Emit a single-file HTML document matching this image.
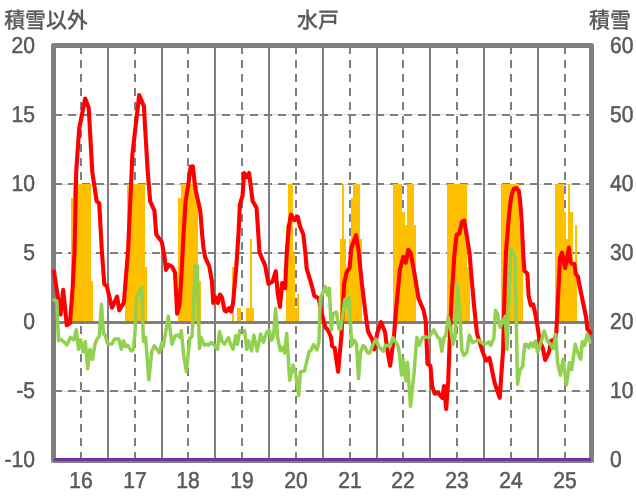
<!DOCTYPE html>
<html lang="ja">
<head>
<meta charset="utf-8">
<title>水戸</title>
<style>
html,body{margin:0;padding:0;background:#fff;}
body{width:636px;height:501px;overflow:hidden;}
svg{display:block;}
</style>
</head>
<body>
<svg width="636" height="501" viewBox="0 0 636 501">
<rect width="636" height="501" fill="#fff"/>
<g stroke="#7f7f7f" fill="none" stroke-width="2">
<line x1="54" x2="592" y1="114.5" y2="114.5" stroke="#dcdcdc" stroke-width="1"/>
<line x1="54" x2="592" y1="184.5" y2="184.5" stroke="#dcdcdc" stroke-width="1"/>
<line x1="54" x2="592" y1="253.5" y2="253.5" stroke="#dcdcdc" stroke-width="1"/>
<line x1="54" x2="592" y1="391.5" y2="391.5" stroke="#dcdcdc" stroke-width="1"/>
<line x1="81" x2="81" y1="46" y2="460" stroke-dasharray="8 6"/>
<line x1="108" x2="108" y1="46" y2="460"/>
<line x1="135" x2="135" y1="46" y2="460" stroke-dasharray="8 6"/>
<line x1="162" x2="162" y1="46" y2="460"/>
<line x1="188" x2="188" y1="46" y2="460" stroke-dasharray="8 6"/>
<line x1="215" x2="215" y1="46" y2="460"/>
<line x1="242" x2="242" y1="46" y2="460" stroke-dasharray="8 6"/>
<line x1="269" x2="269" y1="46" y2="460"/>
<line x1="296" x2="296" y1="46" y2="460" stroke-dasharray="8 6"/>
<line x1="323" x2="323" y1="46" y2="460"/>
<line x1="350" x2="350" y1="46" y2="460" stroke-dasharray="8 6"/>
<line x1="377" x2="377" y1="46" y2="460"/>
<line x1="403" x2="403" y1="46" y2="460" stroke-dasharray="8 6"/>
<line x1="430" x2="430" y1="46" y2="460"/>
<line x1="457" x2="457" y1="46" y2="460" stroke-dasharray="8 6"/>
<line x1="484" x2="484" y1="46" y2="460"/>
<line x1="511" x2="511" y1="46" y2="460" stroke-dasharray="8 6"/>
<line x1="538" x2="538" y1="46" y2="460"/>
<line x1="565" x2="565" y1="46" y2="460" stroke-dasharray="8 6"/>
<line x1="54" x2="592" y1="115" y2="115" stroke-dasharray="8 6"/>
<line x1="54" x2="592" y1="184" y2="184" stroke-dasharray="8 6"/>
<line x1="54" x2="592" y1="253" y2="253" stroke-dasharray="8 6"/>
<line x1="54" x2="592" y1="391" y2="391" stroke-dasharray="8 6"/>
</g>
<path fill="#ffc000" shape-rendering="crispEdges" d="M70.80 321V197.8H73.04V184.0H75.28V184.0H77.52V184.0H79.76V184.0H82.00V184.0H84.24V184.0H86.48V184.0H88.72V184.0H90.96V280.6H93.20V321ZM124.56 321V294.4H126.80V184.0H129.04V184.0H131.28V184.0H133.52V184.0H135.76V184.0H138.00V184.0H140.24V184.0H142.48V184.0H144.72V266.8H146.96V321ZM178.32 321V197.8H180.56V184.0H182.80V184.0H185.04V184.0H187.28V184.0H189.52V184.0H191.76V184.0H194.00V184.0H196.24V184.0H198.48V280.6H200.72V321ZM232.08 321V266.8H234.32V321ZM236.56 321V308.2H238.80V308.2H241.04V321ZM245.52 321V308.2H247.76V308.2H250.00V239.2H252.24V308.2H254.48V321ZM285.84 321V225.4H288.08V184.0H290.32V184.0H292.56V253.0H294.80V308.2H297.04V294.4H299.28V321ZM339.60 321V239.2H341.84V184.0H344.08V239.2H346.32V266.8H348.56V239.2H350.80V197.8H353.04V184.0H355.28V184.0H357.52V184.0H359.76V239.2H362.00V321ZM393.36 321V184.0H395.60V184.0H397.84V184.0H400.08V184.0H402.32V211.6H404.56V225.4H406.80V184.0H409.04V184.0H411.28V184.0H413.52V225.4H415.76V321ZM447.12 321V184.0H449.36V184.0H451.60V184.0H453.84V184.0H456.08V184.0H458.32V184.0H460.56V184.0H462.80V184.0H465.04V184.0H467.28V266.8H469.52V321ZM500.88 321V184.0H503.12V184.0H505.36V184.0H507.60V184.0H509.84V184.0H512.08V184.0H514.32V184.0H516.56V184.0H518.80V225.4H521.04V253.0H523.28V321ZM554.64 321V184.0H556.88V184.0H559.12V184.0H561.36V184.0H563.60V211.6H565.84V239.2H568.08V184.0H570.32V211.6H572.56V266.8H574.80V225.4H577.04V321Z"/>
<rect x="54" y="321" width="538" height="3" fill="#7f7f7f"/>
<rect x="53.5" y="45.5" width="538" height="415" fill="none" stroke="#7f7f7f" stroke-width="5" stroke-linejoin="round"/>
<g fill="none" stroke-linejoin="round" stroke-linecap="round">
<path d="M53.9 271.2L60.6 314.5L63.2 289.9L66.8 325.3L70.0 323.0L72.5 290.0L74.5 252.0L76.2 172.0L79.2 128.5L85.2 98.5L88.7 108.0L92.3 172.0L96.7 201.4L99.2 203.1L101.8 250.0L104.3 284.0L106.9 286.5L112.0 307.7L117.1 296.7L119.3 310.3L123.9 302.6L128.1 250.0L131.5 175.0L132.4 154.5L139.2 95.0L143.9 106.1L147.6 170.0L150.2 201.4L154.4 210.7L156.3 234.5L161.8 241.9L164.3 255.5L166.0 269.9L168.6 264.8L172.0 266.5L175.0 272.5L176.2 294.5L177.1 313.7L179.5 305.0L181.5 275.0L183.2 240.0L185.6 201.0L188.5 183.5L190.6 166.8L192.8 166.3L195.4 189.0L200.3 211.0L202.2 235.0L203.4 247.0L205.1 257.2L209.3 266.5L211.9 281.0L213.2 303.0L215.3 297.0L217.8 303.0L220.0 294.5L222.1 297.9L224.6 310.7L226.3 311.5L228.9 308.1L231.1 311.5L233.1 303.0L236.5 264.0L238.6 232.0L239.9 204.3L242.5 195.8L244.1 173.0L246.8 177.2L249.1 173.0L252.6 200.9L256.5 207.7L258.2 232.0L259.4 252.1L263.0 260.6L265.1 265.3L268.5 284.0L272.7 281.4L275.8 271.2L277.8 294.1L280.0 306.9L282.1 283.1L285.1 288.2L286.8 252.0L288.9 226.0L291.1 214.5L294.5 220.1L297.7 216.7L299.9 226.0L303.3 234.5L305.3 252.0L306.7 268.7L311.8 285.7L314.3 295.8L318.6 298.4L322.0 314.5L325.4 327.3L327.9 330.0L331.0 337.0L332.2 346.3L334.7 348.0L338.1 371.8L341.5 335.0L344.1 284.0L346.6 272.1L349.6 268.0L351.3 248.0L356.0 235.2L358.5 250.0L361.9 284.0L366.1 317.9L368.0 331.5L372.6 340.2L374.3 349.5L377.5 332.0L381.1 322.2L385.0 332.0L387.1 348.7L390.1 365.7L393.9 337.0L396.4 306.0L399.8 270.4L403.2 256.8L405.8 262.7L408.2 249.8L410.8 253.5L414.2 272.1L418.5 298.4L423.6 310.3L425.8 321.3L427.5 364.0L430.4 365.7L432.1 386.0L434.6 393.7L438.0 392.8L442.3 397.9L444.0 386.0L446.2 409.0L448.2 380.9L449.9 335.0L451.6 297.5L454.5 253.0L456.7 234.5L459.2 233.7L462.0 221.8L464.3 220.6L467.1 237.9L469.5 253.0L471.7 279.3L474.1 306.0L476.9 333.0L478.5 338.5L482.7 352.1L486.1 360.6L489.5 358.0L494.6 382.6L499.7 397.9L503.1 350.0L504.8 284.0L506.0 252.0L508.6 220.0L510.2 204.0L511.8 194.4L513.8 188.8L516.4 188.0L518.8 190.8L520.0 200.0L521.0 212.0L521.9 225.0L523.1 252.0L524.3 270.4L527.4 273.8L528.6 295.8L530.8 305.2L533.2 304.3L535.4 314.5L537.4 326.0L539.6 340.2L543.0 348.7L545.1 360.0L549.0 352.1L551.2 341.0L554.9 338.5L556.3 333.0L557.6 307.0L560.0 258.0L562.0 252.6L565.1 268.0L568.9 247.6L570.3 261.9L571.9 263.6L574.4 264.1L575.8 274.0L578.0 276.8L579.4 285.0L584.0 307.0L586.2 318.0L587.3 329.0L590.5 333.0" stroke="#ff0000" stroke-width="4.1"/>
<path d="M53.9 300.0L56.8 301.0L58.5 340.8L60.2 339.0L62.7 340.8L67.0 345.0L70.4 337.4L73.8 339.9L76.3 329.7L78.5 349.2L80.6 339.9L83.1 351.8L85.3 341.6L87.7 368.8L89.9 349.2L92.5 359.4L95.0 344.1L97.5 338.2L99.2 336.5L101.5 304.2L103.5 334.0L105.2 334.8L107.7 344.1L112.0 344.1L114.5 339.0L118.8 339.0L121.3 349.2L123.5 340.8L125.6 346.7L127.3 345.0L131.2 350.9L133.2 350.0L134.9 334.0L136.6 297.5L141.7 287.4L143.2 334.0L143.6 341.6L145.6 337.4L148.8 379.8L151.9 351.0L154.4 345.8L159.2 352.7L161.7 343.2L163.2 346.8L168.4 316.2L172.0 344.2L175.0 335.8L177.9 334.9L180.1 337.5L181.3 330.7L183.9 357.0L186.4 371.4L189.8 338.3L192.0 336.6L193.5 310.0L195.1 265.5L197.3 266.0L198.3 310.0L199.5 348.5L201.2 337.5L204.2 345.1L206.8 344.2L208.5 345.1L211.0 342.5L214.4 345.1L217.5 349.3L219.5 331.5L222.1 341.7L224.6 344.2L228.4 337.5L230.6 344.2L233.1 349.3L235.7 335.8L237.4 344.2L239.8 330.5M244.6 330.5L246.7 349.3L248.4 340.8L251.5 351.0L253.8 334.9L257.2 351.0L260.6 334.1L263.4 342.1L266.8 331.9L269.3 330.2L271.5 340.4L273.6 335.3L275.6 308.6L277.8 338.7L280.4 350.6L282.9 347.2L284.6 353.1L286.7 333.6L289.7 380.3L293.1 365.0L295.7 374.3L298.7 395.6L300.4 371.8L304.5 371.0L309.2 351.4L310.9 350.6L313.5 344.6L316.9 349.7L318.9 342.1L320.3 298.4L325.4 286.5L327.4 295.0L329.3 288.2L331.3 329.8L333.0 313.7L336.4 312.0L339.0 329.0L340.7 329.0L344.9 299.2L346.9 306.9L349.1 297.5L351.7 345.5L354.2 340.4L356.5 343.8L358.5 378.6L360.5 352.3L363.2 345.5L365.0 347.0L367.5 352.9L369.7 352.9L372.6 345.3L376.0 339.3L378.6 346.1L383.3 351.2L385.4 345.3L390.1 346.1L393.0 337.6L398.1 346.1L399.8 356.3L401.5 375.0L403.2 358.9L405.8 380.9L407.5 362.3L410.5 406.4L414.2 371.6L416.8 337.6L419.3 345.3L421.9 338.5L424.4 336.8L428.7 337.6L433.8 329.8L438.0 337.6L439.7 338.5L441.8 351.2L444.0 337.6L445.7 336.0L448.2 317.1L450.8 329.8L453.0 344.4L455.0 336.8L457.5 284.8L460.1 317.9L461.8 350.4L464.0 355.5L466.9 352.1L469.4 335.1L472.5 342.7L478.5 340.2L484.4 344.4L488.7 341.9L490.7 345.3L493.8 338.5L495.5 310.3L497.7 314.5L500.2 327.3L505.3 316.2L507.0 349.5L510.8 248.0L515.0 256.8L517.5 384.3L519.8 370.8L522.6 366.5L524.7 344.4L526.9 344.4L528.6 347.8L531.1 342.7L533.2 347.0L535.4 341.0L537.6 352.1L539.6 347.0L544.2 331.0L547.7 341.6L550.5 344.3L553.2 348.7L555.7 334.4L557.6 363.0L560.4 375.1L563.1 359.2L566.4 385.0L569.5 362.5L571.7 369.6L575.2 344.3L578.0 353.1L580.7 359.2L582.4 341.6L584.6 345.4L587.3 334.4L590.1 342.1" stroke="#92d050" stroke-width="3.5"/>
</g>
<path d="M53.8 458H590.4L591.2 461H53.8Z" fill="#7030a0"/>
<g fill="#595959" font-family="'Liberation Sans', 'Noto Sans CJK JP', sans-serif">
<g font-size="20.9" font-weight="500" stroke="#595959" stroke-width="0.2" text-anchor="middle" text-rendering="geometricPrecision">
<text transform="translate(46.0 28.0) scale(1 1.045)">積雪以外</text>
<text transform="translate(318.0 28.0) scale(1 1.045)">水戸</text>
<text transform="translate(610.0 28.0) scale(1 1.045)">積雪</text>
</g>
<g font-size="23.0" stroke="#595959" stroke-width="0.5" stroke-linejoin="round" text-rendering="geometricPrecision">
<text transform="translate(35.0 53.2) scale(0.917 1)" text-anchor="end">20</text>
<text transform="translate(35.0 122.2) scale(0.917 1)" text-anchor="end">15</text>
<text transform="translate(35.0 191.2) scale(0.917 1)" text-anchor="end">10</text>
<text transform="translate(35.0 260.2) scale(0.917 1)" text-anchor="end">5</text>
<text transform="translate(35.0 329.2) scale(0.917 1)" text-anchor="end">0</text>
<text transform="translate(35.0 398.2) scale(0.917 1)" text-anchor="end">-5</text>
<text transform="translate(35.0 467.2) scale(0.917 1)" text-anchor="end">-10</text>
<text transform="translate(610.0 53.2) scale(0.917 1)" text-anchor="start">60</text>
<text transform="translate(610.0 122.2) scale(0.917 1)" text-anchor="start">50</text>
<text transform="translate(610.0 191.2) scale(0.917 1)" text-anchor="start">40</text>
<text transform="translate(610.0 260.2) scale(0.917 1)" text-anchor="start">30</text>
<text transform="translate(610.0 329.2) scale(0.917 1)" text-anchor="start">20</text>
<text transform="translate(610.0 398.2) scale(0.917 1)" text-anchor="start">10</text>
<text transform="translate(610.0 467.2) scale(0.917 1)" text-anchor="start">0</text>
<text transform="translate(81.0 487.6) scale(0.917 1)" text-anchor="middle">16</text>
<text transform="translate(135.0 487.6) scale(0.917 1)" text-anchor="middle">17</text>
<text transform="translate(188.0 487.6) scale(0.917 1)" text-anchor="middle">18</text>
<text transform="translate(242.0 487.6) scale(0.917 1)" text-anchor="middle">19</text>
<text transform="translate(296.0 487.6) scale(0.917 1)" text-anchor="middle">20</text>
<text transform="translate(350.0 487.6) scale(0.917 1)" text-anchor="middle">21</text>
<text transform="translate(403.0 487.6) scale(0.917 1)" text-anchor="middle">22</text>
<text transform="translate(457.0 487.6) scale(0.917 1)" text-anchor="middle">23</text>
<text transform="translate(511.0 487.6) scale(0.917 1)" text-anchor="middle">24</text>
<text transform="translate(565.0 487.6) scale(0.917 1)" text-anchor="middle">25</text>
</g>
</g>
</svg>
</body>
</html>
